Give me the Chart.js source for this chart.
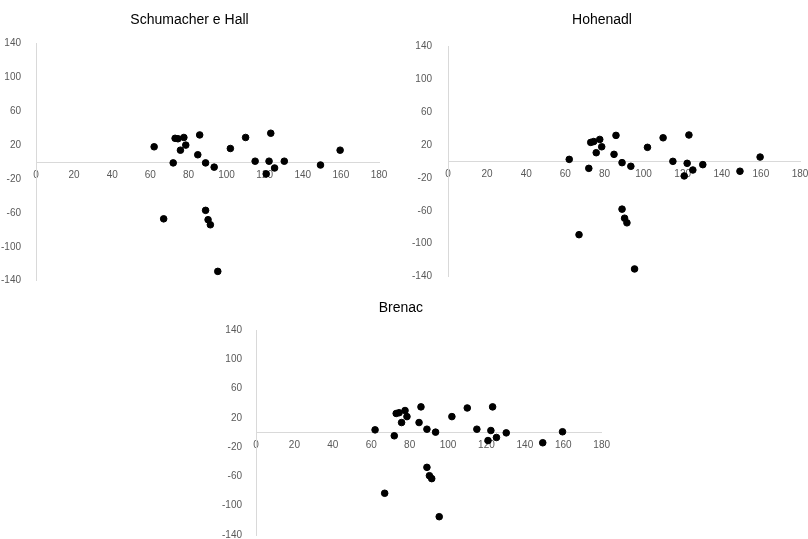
<!DOCTYPE html>
<html>
<head>
<meta charset="utf-8">
<title>Scatter</title>
<script src="https://cdn.jsdelivr.net/npm/chart.js@4.4.0/dist/chart.umd.min.js"></script>
<style>
  html, body { margin: 0; padding: 0; background: #fff; overflow: hidden; }
  body { width: 808px; height: 539px; position: relative; }
  canvas { position: absolute; }
  #c1 { left: 0; top: 0; }
  #c2 { left: 404px; top: 0; }
  #c3 { left: 200px; top: 290px; }
</style>
</head>
<body>
<canvas id="c1" width="404" height="290"></canvas>
<canvas id="c2" width="404" height="290"></canvas>
<canvas id="c3" width="430" height="260"></canvas>
<script>
// --- data ---
const xValues = [62, 67, 72, 73, 74.5, 75.8, 77.6, 78.6, 84.9, 85.9, 89, 89, 90.3, 91.5, 93.5, 95.4,
                 102, 110, 115, 120.8, 122.3, 123.2, 125.2, 130.3, 149.3, 159.6];

const schumacherHall = [18, -67, -1, 28, 27.5, 14, 29, 20, 8.6, 32, -1, -57, -68, -74, -6, -129,
                        16, 29, 1, -14, 1, 34, -7, 1, -3.5, 14];

const hohenadl = [2.4, -89, -8.5, 23, 24, 10.5, 26.6, 17.7, 8.5, 31.5, -1.6, -58, -69, -74.6, -6, -130.6,
                  17, 28.6, 0, -17.7, -2.4, 32, -10.5, -4, -12, 5.2];

const brenac = [3.6, -83, -4.5, 26, 27, 13.6, 30, 21.7, 13.6, 35, 4.5, -47.6, -59, -63, 0.5, -115,
                21.7, 33.5, 4.5, -11, 2.7, 35, -6.8, -0.5, -14, 1];

const xTicks = { min: 0, max: 180, step: 20 };
const yTicks = { min: -140, max: 140, step: 40 };

const FONT = "'Liberation Sans', Arial, sans-serif";
const AXIS_COLOR = '#d9d9d9';
const LABEL_COLOR = '#595959';

function makeChart(id, title, yValues, box) {
    const points = xValues.map((x, i) => ({ x: x, y: yValues[i] }));
    return new Chart(document.getElementById(id), {
        type: 'scatter',
        data: {
            datasets: [{
                data: points,
                backgroundColor: '#000',
                borderColor: '#000',
                pointRadius: 3.3,
                pointHoverRadius: 3.3
            }]
        },
        options: {
            responsive: false,
            animation: false,
            layout: {
                padding: { left: 0, right: box.right, top: 0, bottom: box.bottom }
            },
            plugins: {
                legend: { display: false },
                tooltip: { enabled: false },
                title: {
                    display: true,
                    text: title,
                    color: '#000',
                    font: { family: FONT, size: 14, weight: 'normal' },
                    padding: { top: box.titleTop, bottom: box.titleBottom }
                }
            },
            scales: {
                x: {
                    type: 'linear',
                    position: { y: 0 },
                    min: xTicks.min,
                    max: xTicks.max,
                    grid: { display: false, drawTicks: false },
                    border: { display: true, color: AXIS_COLOR, width: 1 },
                    ticks: {
                        stepSize: xTicks.step,
                        padding: 7,
                        color: LABEL_COLOR,
                        font: { family: FONT, size: 10 },
                        maxRotation: 0
                    },
                    // axis sits inside the plot, so it should not take any room
                    afterFit: (scale) => {
                        scale.height = 0;
                        scale.paddingLeft = 0;
                        scale.paddingRight = 0;
                    }
                },
                y: {
                    type: 'linear',
                    position: 'left',
                    min: yTicks.min,
                    max: yTicks.max,
                    grid: { display: false, drawTicks: false },
                    border: { display: true, color: AXIS_COLOR, width: 1 },
                    ticks: {
                        stepSize: yTicks.step,
                        padding: box.yPad,
                        color: LABEL_COLOR,
                        font: { family: FONT, size: 10 }
                    },
                    afterFit: (scale) => {
                        scale.width = box.yWidth;
                        scale.paddingTop = 0;
                        scale.paddingBottom = 0;
                    }
                }
            }
        }
    });
}

makeChart('c1', 'Schumacher e Hall', schumacherHall,
    { yWidth: 36, yPad: 15, right: 25, bottom: 9.3, titleTop: 12, titleBottom: 14.6 });
makeChart('c2', 'Hohenadl', hohenadl,
    { yWidth: 44, yPad: 16, right: 8, bottom: 13.3, titleTop: 12, titleBottom: 17.2 });
makeChart('c3', 'Brenac', brenac,
    { yWidth: 56, yPad: 14, right: 28.3, bottom: 15, titleTop: 9.6, titleBottom: 13.6 });
</script>
</body>
</html>
